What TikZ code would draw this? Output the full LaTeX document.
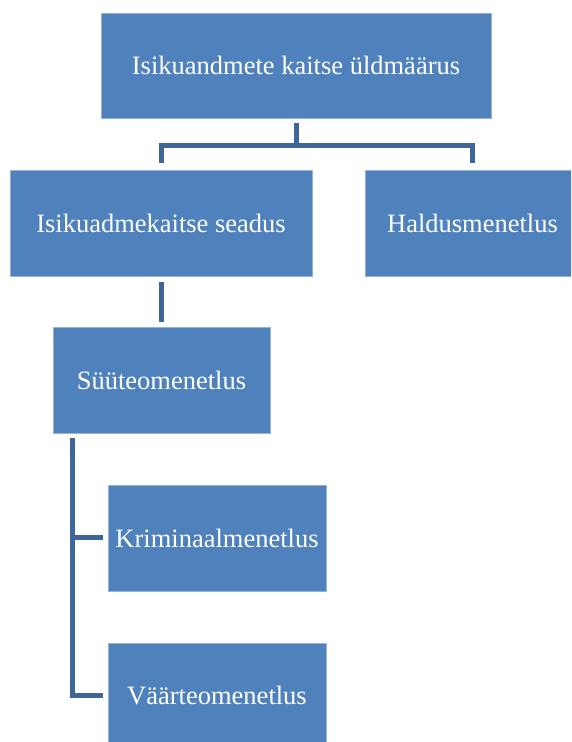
\documentclass[tikz,border=0pt]{standalone}
\usepackage{fontspec}
\setmainfont{Liberation Serif}
\usetikzlibrary{calc}
\definecolor{boxblue}{RGB}{79,129,189}
\definecolor{lineblue}{RGB}{62,102,153}
\begin{document}
\begin{tikzpicture}[x=1pt,y=1pt,
  orgbox/.style={rectangle, fill=boxblue, draw=boxblue!60!white, line width=0.6pt,
    text=white, inner sep=0pt, font=\fontsize{26.5}{30}\selectfont},
  conn/.style={draw=lineblue, line width=5pt}]
\useasboundingbox (0,0) rectangle (571,742);
\clip (0,0) rectangle (571,742);
\node[orgbox, minimum width=390pt, minimum height=105pt] (b1) at (296,676.5) {Isikuandmete kaitse üldmäärus};
\node[orgbox, minimum width=302pt, minimum height=106pt] (b2) at (161,519) {Isikuadmekaitse seadus};
\node[orgbox, minimum width=215pt, minimum height=106pt] (b3) at (472.5,519) {Haldusmenetlus};
\node[orgbox, minimum width=217pt, minimum height=106pt] (b4) at (161.5,362) {Süüteomenetlus};
\node[orgbox, minimum width=218pt, minimum height=106pt] (b5) at (217,204) {Kriminaalmenetlus};
\node[orgbox, minimum width=218pt, minimum height=106pt] (b6) at (217,46) {Väärteomenetlus};
% connectors
\coordinate (j1) at ($(b1.south)+(0,-27)$);
\draw[conn] ([yshift=-5pt]b1.south) -- (j1);
\draw[conn] ([yshift=7pt]b2.north) |- (j1) -| ([yshift=7pt]b3.north);
\draw[conn] ([yshift=-6pt]b2.south) -- ([yshift=5pt,xshift=-0.5pt]b4.north);
\coordinate (j2) at ([xshift=20pt,yshift=-5pt]b4.south west);
\draw[conn] (j2) |- ([xshift=-5pt]b6.west);
\draw[conn] ([xshift=-5pt]b5.west) -- (b5.west -| j2);
\end{tikzpicture}
\end{document}
